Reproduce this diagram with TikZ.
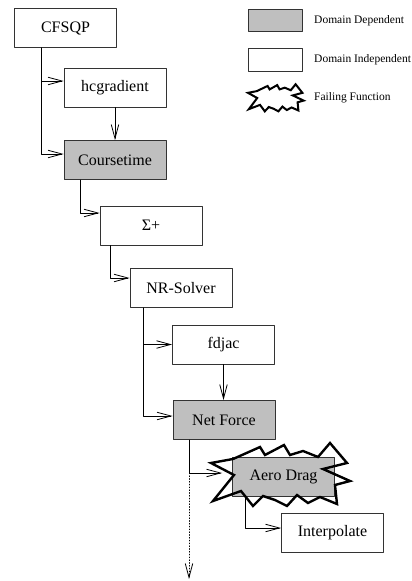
\documentclass[tikz,border=0pt]{standalone}
\usepackage{fontspec}
\setmainfont{Liberation Serif}
\usetikzlibrary{arrows.meta}

% jagged outline of a failing function (around its centre)
\newcommand{\crashshape}{(-70,-12) -- (-48,-16) -- (-21,-28) -- (-16,-20) -- (3,-30) -- (9,-20)
  -- (22,-24) -- (37,-18) -- (49,-32) -- (66,-12) -- (42,-6) -- (69,6) -- (54,10) -- (56,29)
  -- (39,22) -- (27,28) -- (16,20) -- (6,31) -- (-6,25) -- (-18,21) -- (-28,31) -- (-40,16)
  -- (-68,26) -- (-47,0) -- cycle}

\begin{document}
\begin{tikzpicture}[x=1pt, y=-1pt, line cap=round, line join=round,
    fn/.style={draw=black!80, line width=0.9pt, minimum width=102pt, minimum height=39pt,
      inner sep=0pt, font=\fontsize{16}{19}\selectfont},
    dep/.style={fn, fill=gray!50},
    flow/.style={line width=0.8pt, -{Straight Barb[length=14pt,width=7.5pt]}},
    crash/.style={line width=2.4pt, line join=miter},
    legtext/.style={anchor=west, inner sep=0pt, font=\fontsize{11.5}{13}\selectfont}]
    \useasboundingbox (0,0) rectangle (412,581);

    % call tree
    \node[fn]  (cfsqp)    at (65.5,28)    {CFSQP};
    \node[fn]  (hcgrad)   at (115,87.5)   {hcgradient};
    \node[dep] (course)   at (115,160)    {Coursetime};
    \node[fn]  (sigma)    at (151,225.5)  {Σ+};
    \node[fn]  (nrsolver) at (181,288)    {NR-Solver};
    \node[fn]  (fdjac)    at (223.5,344.5) {fdjac};
    \node[dep] (netforce) at (224,420)    {Net Force};
    \node[dep] (aerodrag) at (283.5,476.5) {Aero Drag};
    \node[fn]  (interp)   at (332.5,532.5) {Interpolate};

    % failing function
    \begin{scope}[shift={(281,475)}]
        \draw[crash] \crashshape;
    \end{scope}

    % calls
    \draw[flow] ([xshift=-24.5pt]cfsqp.south) |- ([yshift=6.5pt]hcgrad.west);
    \draw[flow] ([xshift=-24.5pt]cfsqp.south) |- ([yshift=6pt]course.west);
    \draw[flow] (hcgrad.south) -- (hcgrad.south |- course.north);
    \draw[flow] ([xshift=-35pt]course.south) |- ([yshift=12.5pt]sigma.west);
    \draw[flow] ([xshift=-41pt]sigma.south) |- ([yshift=10pt]nrsolver.west);
    \draw[flow] ([xshift=-38pt]nrsolver.south) |- (fdjac.west);
    \draw[flow] ([xshift=-38pt]nrsolver.south) |- ([yshift=4pt]netforce.west);
    \draw[flow] (fdjac.south) -- (fdjac.south |- netforce.north);
    \draw[flow, shorten >=10pt] ([xshift=-35pt]netforce.south) |- ([yshift=3.5pt]aerodrag.west);
    \draw[flow] ([xshift=-38.5pt]aerodrag.south) |- ([yshift=4.5pt]interp.west);

    % further calls, not shown
    \coordinate (offpage) at (189,579);
    \draw[flow, dotted] ([xshift=-35pt,yshift=-33pt]netforce.south) -- (offpage);

    % legend
    \node[dep, minimum width=54pt, minimum height=22pt] (legdep)   at (275,20)   {};
    \node[fn,  minimum width=54pt, minimum height=23pt] (legindep) at (275,59.5) {};
    \begin{scope}[shift={(276,98)}, x=0.4pt, y=-0.43pt]
        \draw[crash, line width=2pt] \crashshape;
    \end{scope}
    \node[legtext] (legdeptext)   at (314,21) {Domain Dependent};
    \node[legtext] (legindeptext) at (314,60) {Domain Independent};
    \node[legtext] (legfailtext)  at (314,98) {Failing Function};
\end{tikzpicture}
\end{document}
